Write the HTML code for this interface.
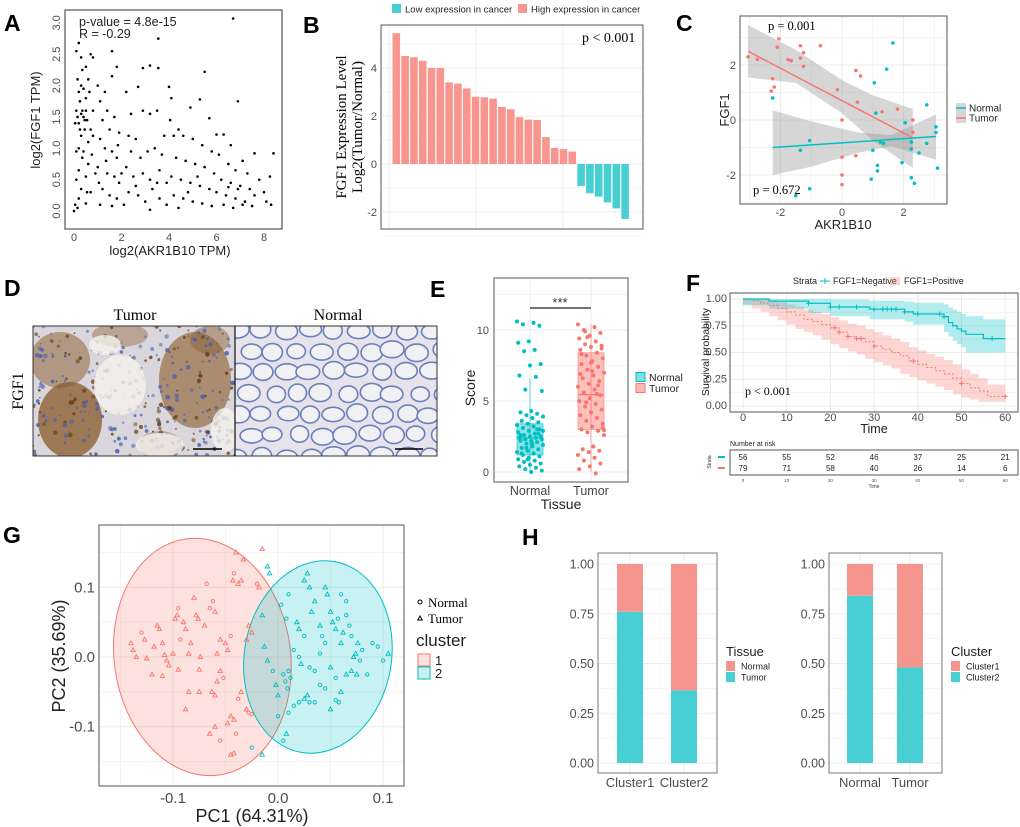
<!DOCTYPE html>
<html><head><meta charset="utf-8">
<style>
html,body{margin:0;padding:0;background:#fff;}
svg{display:block;font-family:"Liberation Sans",Arial,sans-serif;}
.lt{font-weight:bold;font-size:23px;fill:#000;}
.tk{font-size:11px;fill:#4d4d4d;}
.serif{font-family:"Liberation Serif",serif;}
</style></head>
<body>
<svg id="fig" width="1020" height="827" viewBox="0 0 1020 827" xmlns="http://www.w3.org/2000/svg">
<text x="4" y="31" class="lt">A</text>
<text x="303" y="33" class="lt">B</text>
<text x="676" y="31" class="lt">C</text>
<text x="4" y="296" class="lt">D</text>
<text x="430" y="297" class="lt">E</text>
<text x="686" y="291" class="lt">F</text>
<text x="3" y="543" class="lt">G</text>
<text x="522" y="545" class="lt">H</text>
<g id="gA"></g>
<g id="gB"></g>
<g id="gC"></g>
<g id="gD"></g>
<g id="gE"></g>
<g id="gF"></g>
<g id="gG"></g>
<g id="gH"></g>
</svg>
<script>
// ---------- DATA ----------
const aPoints=[[0.1,2.55],[0.2,2.68],[0.3,2.45],[0.5,2.3],[0.7,2.5],[0.8,2.45],[0.15,2.1],[0.3,2.0],[0.4,1.95],[0.2,1.9],[0.5,1.8],[0.6,2.1],[0.1,1.6],[0.3,1.55],[0.4,1.5],[0.5,1.6],[0.2,1.4],[0.45,1.3],[0.7,1.3],[0.3,1.2],[0.6,1.1],[0.2,1.0],[0.4,0.95],[0.8,1.2],[0.1,0.95],[0.35,0.85],[0.6,0.75],[0.2,0.65],[0.5,0.55],[0.1,0.5],[0.3,0.35],[0.7,0.3],[0.2,0.2],[0.5,0.12],[0.05,0.1],[0.0,0.0],[0.15,0.05],[0.9,0.6],[0.8,1.6],[0.65,1.9],[0.75,0.9],[0.35,2.25],[0.55,1.45],[0.25,1.75],[0.15,1.5],[0.35,1.6],[0.45,1.45],[0.25,1.3],[0.05,1.4],[0.55,0.3],
[1.0,2.0],[1.3,1.9],[1.1,1.75],[1.4,1.6],[1.6,2.55],[1.8,2.3],[1.6,2.15],[1.2,1.45],[1.5,1.3],[1.7,1.5],[1.9,1.25],[1.1,1.15],[1.3,1.0],[1.6,0.95],[1.8,0.85],[1.0,0.7],[1.4,0.6],[1.7,0.55],[1.9,0.45],[1.2,0.35],[1.5,0.25],[1.8,0.2],[1.1,0.1],[1.6,0.08],[2.0,0.6],[1.35,0.8],[1.85,1.05],[1.05,0.45],
[2.2,1.9],[2.4,1.55],[2.7,1.98],[2.9,2.28],[3.2,2.32],[3.55,2.75],[3.55,2.28],[2.3,1.2],[2.6,1.15],[2.9,1.6],[3.2,1.55],[3.5,1.6],[3.8,1.2],[2.4,0.95],[2.8,0.85],[3.1,0.95],[3.4,1.0],[3.7,0.9],[2.2,0.7],[2.5,0.55],[2.9,0.6],[3.2,0.5],[3.6,0.65],[3.9,0.45],[2.3,0.3],[2.7,0.25],[3.0,0.15],[3.3,0.35],[3.6,0.2],[3.9,0.1],[2.1,0.1],[3.2,0.02],[2.6,0.4],[3.5,0.45],
[4.0,1.98],[4.1,1.8],[4.05,1.45],[4.4,1.3],[4.9,1.65],[5.3,1.78],[5.5,2.22],[5.7,1.48],[4.2,1.2],[4.6,1.2],[5.0,1.15],[5.4,1.05],[5.8,0.95],[4.3,0.85],[4.7,0.8],[5.1,0.75],[5.5,0.7],[5.9,0.6],[4.1,0.55],[4.5,0.5],[4.9,0.45],[5.3,0.4],[5.7,0.35],[4.2,0.25],[4.6,0.2],[5.0,0.15],[5.4,0.12],[5.8,0.08],[4.4,0.05],[5.2,0.55],[4.8,0.3],
[6.0,1.22],[6.3,1.22],[6.6,1.05],[6.9,1.75],[6.7,3.07],[6.1,0.9],[6.5,0.75],[6.8,0.65],[7.1,0.8],[7.6,0.92],[8.4,0.92],[6.2,0.5],[6.6,0.45],[7.0,0.4],[7.4,0.35],[7.8,0.5],[6.0,0.3],[6.4,0.25],[6.8,0.2],[7.2,0.15],[7.6,0.25],[8.0,0.3],[8.25,0.55],[6.3,0.1],[6.7,0.05],[7.1,0.1],[7.5,0.08],[8.3,0.1],[6.9,0.35],[7.3,0.6],[6.5,0.38],[8.1,0.15]];
const aXTicks=[0,2,4,6,8];
const aYTicks=[0.0,0.5,1.0,1.5,2.0,2.5,3.0];

const bValues=[5.45,4.5,4.45,4.3,4.0,4.0,3.4,3.35,3.15,2.8,2.78,2.72,2.38,2.28,1.95,1.85,1.83,1.12,0.67,0.62,0.52,-0.92,-1.22,-1.36,-1.6,-1.85,-2.29];
const bYTicks=[-2,0,2,4];

const cTumor=[[-3.05,2.3],[-2.75,2.2],[-2.25,1.5],[-2.3,1.05],[-2.2,1.2],[-2.1,2.65],[-2.05,2.95],[-1.75,2.2],[-1.65,2.15],[-1.35,2.25],[-1.35,2.7],[-1.25,2.45],[-1.25,1.95],[-0.7,2.7],[-0.15,1.1],[0,0],[0.45,1.8],[0.6,1.6],[0.5,0.65],[1.3,0.3],[1.8,0.4],[2.3,0],[2.3,-0.45],[0,-1.35],[0.45,-1.3],[0,-2.0],[0,-2.35]];
const cNormal=[[-2.25,0.8],[-1.05,-0.75],[-1.35,-1.1],[-1.05,-2.5],[-1.5,-2.75],[1.05,1.35],[1.45,1.85],[1.65,2.8],[1.1,0.25],[1.25,-0.8],[1.35,-0.85],[1.0,-1.1],[1.15,-1.65],[1.15,-1.85],[0.95,-2.15],[1.95,-1.55],[2.05,-0.1],[2.25,-0.8],[2.25,-1.05],[2.25,-2.1],[2.35,-2.3],[2.5,-1.2],[2.75,0.55],[2.75,-0.85],[3.05,-0.25],[3.05,-0.45],[3.1,-1.75]];
const cTumorFit=[[-3.05,2.5],[2.3,-0.65]];
const cTumorBandU=[[-3.05,3.45],[-1.5,2.55],[0,1.45],[1,0.9],[2.3,0.4]];
const cTumorBandL=[[-3.05,1.55],[-1.5,1.35],[0,0.25],[1,-0.75],[2.3,-1.75]];
const cNormalFit=[[-2.25,-1.0],[3.05,-0.6]];
const cNormalBandU=[[-2.25,0.35],[-1,-0.05],[0.5,-0.45],[1.6,-0.55],[3.05,0.2]];
const cNormalBandL=[[-2.25,-2.0],[-1,-1.7],[0.5,-1.2],[1.6,-0.95],[3.05,-1.45]];
const cXTicks=[-2,0,2];
const cYTicks=[-2,0,2];

const eNormal=[10.6,10.5,10.4,10.3,9.2,9.1,8.6,8.5,7.6,7.5,6.8,6.7,5.8,5.7,4.3,4.2,4.1,4.0,3.9,3.8,3.6,3.5,3.4,3.3,3.2,3.1,3.0,2.9,2.8,2.7,2.6,2.5,2.5,2.4,2.4,2.3,2.3,2.2,2.2,2.1,2.0,1.9,1.8,1.7,1.6,1.5,1.4,1.3,1.2,1.1,1.0,0.9,0.8,0.7,0.6,0.5,0.4,0.3,0.2,0.1,0.0,2.6,3.0,1.7,2.9,2.0,1.3,2.7,0.9,3.3];
const eTumor=[10.4,10.2,10.0,9.8,9.6,9.4,9.2,9.0,8.9,8.8,8.6,8.4,8.2,8.0,7.8,7.6,7.4,7.2,7.0,6.8,6.6,6.4,6.2,6.0,5.8,5.6,5.4,5.2,5.0,4.8,4.6,4.4,4.2,4.0,3.8,3.6,3.4,3.2,3.0,2.9,2.8,2.6,1.8,1.6,1.5,1.4,1.2,1.0,0.8,0.6,0.4,0.2,-0.1,9.9,8.7,7.7,6.9,5.5,4.9,3.1,7.1,8.3,6.1,9.5,2.95];
const eNormalBox=[0,1.2,2.4,3.4,6.6];
const eTumorBox=[0,3.0,5.45,8.4,10.4];
const eYTicks=[0,5,10];

const fNegT=[0,6,15,20,29,37,39,46,47,48,49,50,51,55,60];
const fNegS=[1,0.98,0.96,0.925,0.905,0.88,0.86,0.835,0.78,0.75,0.72,0.70,0.67,0.63,0.63];
const fNegU=[1,1,1,0.995,0.985,0.975,0.965,0.95,0.92,0.9,0.88,0.86,0.84,0.81,0.81];
const fNegL=[1,0.94,0.91,0.87,0.84,0.81,0.79,0.76,0.69,0.65,0.61,0.58,0.55,0.5,0.5];
const fPosT=[0,2,4,6,8,10,12,14,16,18,20,22,24,26,28,30,32,34,36,38,40,42,44,46,48,50,52,54,56,60];
const fPosS=[1,0.985,0.96,0.94,0.91,0.88,0.85,0.81,0.79,0.76,0.73,0.69,0.65,0.63,0.6,0.56,0.53,0.5,0.47,0.42,0.39,0.36,0.33,0.3,0.26,0.21,0.17,0.14,0.09,0.09];
const fPosU=[1,1,1,0.99,0.97,0.95,0.93,0.9,0.88,0.86,0.83,0.8,0.77,0.75,0.72,0.69,0.66,0.63,0.6,0.55,0.52,0.49,0.46,0.43,0.39,0.34,0.3,0.26,0.2,0.2];
const fPosL=[1,0.95,0.91,0.88,0.84,0.8,0.76,0.72,0.69,0.66,0.62,0.58,0.54,0.51,0.48,0.44,0.41,0.38,0.35,0.3,0.27,0.24,0.21,0.18,0.15,0.11,0.08,0.06,0.04,0.04];
const fNegCens=[15,20,22,26,30,32,33,34,35,37,40,45,46,57];
const fPosCens=[21,22,24,26,27,30,39,50,60];
const fTimeTicks=[0,10,20,30,40,50,60];
const fProbTicks=[0,0.25,0.5,0.75,1.0];
const fRiskNeg=[56,55,52,46,37,25,21];
const fRiskPos=[79,71,58,40,26,14,6];

const gCluster1=[[-0.14,0.02,1],[-0.138,0.01,1],[-0.135,0.0,1],[-0.13,0.035,0],[-0.127,0.025,1],[-0.125,-0.002,1],[-0.118,0.015,1],[-0.115,0.045,1],[-0.113,0.04,1],[-0.11,0.02,1],[-0.108,0.003,1],[-0.106,-0.005,1],[-0.104,-0.012,1],[-0.1,0.005,1],[-0.098,0.055,1],[-0.096,0.06,1],[-0.095,0.07,0],[-0.093,0.025,0],[-0.09,0.05,1],[-0.088,0.04,1],[-0.085,0.005,1],[-0.083,0.02,1],[-0.08,0.085,1],[-0.078,0.06,1],[-0.076,0.055,1],[-0.074,0.0,1],[-0.07,0.045,1],[-0.068,0.105,0],[-0.065,0.07,0],[-0.062,0.08,0],[-0.06,0.065,1],[-0.058,0.005,1],[-0.055,0.025,1],[-0.05,0.02,1],[-0.048,0.01,1],[-0.045,0.03,0],[-0.043,0.11,1],[-0.042,0.12,0],[-0.04,0.15,1],[-0.038,0.105,1],[-0.035,0.11,1],[-0.033,0.14,1],[-0.03,0.025,1],[-0.028,0.045,1],[-0.025,0.035,1],[-0.02,0.105,0],[-0.018,0.10,1],[-0.015,0.155,1],[-0.055,-0.02,1],[-0.052,-0.03,0],[-0.058,-0.035,1],[-0.063,-0.05,1],[-0.06,-0.055,1],[-0.075,-0.05,1],[-0.085,-0.05,1],[-0.088,-0.075,1],[-0.065,-0.11,1],[-0.06,-0.1,1],[-0.055,-0.12,0],[-0.048,-0.095,1],[-0.045,-0.085,1],[-0.042,-0.09,1],[-0.04,-0.11,0],[-0.045,-0.14,1],[-0.042,-0.138,1],[-0.035,-0.05,1],[-0.03,-0.075,1],[-0.028,-0.08,0],[-0.025,-0.082,0],[-0.038,-0.06,0],[-0.12,-0.025,1],[-0.11,-0.027,1],[-0.095,-0.018,1],[-0.075,-0.018,1]];
const gCluster2=[[-0.025,-0.13,0],[-0.015,-0.14,1],[-0.01,0.13,1],[-0.008,0.12,1],[-0.015,0.06,1],[-0.013,0.015,1],[-0.01,-0.005,1],[-0.005,-0.02,0],[-0.002,-0.04,1],[0.0,-0.055,1],[0.005,-0.025,0],[0.007,-0.035,0],[0.009,-0.045,0],[0.01,-0.02,0],[0.012,-0.03,0],[0.015,0.01,0],[0.018,0.05,1],[0.02,0.04,1],[0.022,-0.01,1],[0.025,0.11,1],[0.028,0.12,1],[0.03,0.1,1],[0.032,0.065,1],[0.035,0.08,1],[0.04,0.045,1],[0.042,0.03,0],[0.045,0.02,0],[0.045,0.1,1],[0.047,0.09,1],[0.05,0.065,1],[0.052,0.05,1],[0.055,0.04,1],[0.057,0.055,0],[0.06,0.02,1],[0.062,0.035,1],[0.065,0.06,0],[0.068,0.045,0],[0.07,0.03,0],[0.072,0.0,1],[0.074,0.005,1],[0.076,0.02,1],[0.078,-0.005,0],[0.08,0.01,0],[0.085,-0.025,0],[0.09,0.02,0],[0.095,0.015,0],[0.1,-0.005,0],[0.105,0.005,1],[0.04,0.005,0],[0.035,-0.02,0],[0.03,-0.015,0],[0.05,-0.015,1],[0.055,-0.03,0],[0.06,-0.05,1],[0.065,-0.025,1],[0.07,-0.02,1],[0.075,-0.025,1],[0.045,-0.045,0],[0.04,-0.04,0],[0.035,-0.065,0],[0.03,-0.065,0],[0.028,-0.055,1],[0.025,-0.06,1],[0.02,-0.065,0],[0.05,-0.075,1],[0.055,-0.062,0],[0.058,-0.065,0],[0.01,-0.08,0],[0.005,-0.12,0],[0.008,-0.11,1],[0.015,-0.07,0],[0.0,-0.085,0],[0.02,0.0,0],[0.025,0.03,0],[0.003,0.075,0],[0.008,0.055,0],[0.01,0.09,0],[0.06,0.09,0],[0.065,0.08,0]];
const gEllipse1=[-0.072,0.0,0.084,0.171];
const gEllipse2=[0.038,0.0,0.07,0.139];
const gXTicks=[-0.1,0.0,0.1];
const gYTicks=[-0.1,0.0,0.1];

const hLeftCats=["Cluster1","Cluster2"];
const hLeftTumor=[0.76,0.365];
const hRightCats=["Normal","Tumor"];
const hRightCluster2=[0.84,0.48];
const hYTicks=[0,0.25,0.5,0.75,1.0];

// ---------- HELPERS ----------
const NS="http://www.w3.org/2000/svg";
const PINK="#F8766D", CYAN="#00BFC4";
function mk(tag,attrs,parent){const e=document.createElementNS(NS,tag);for(const k in attrs)e.setAttribute(k,attrs[k]);parent.appendChild(e);return e;}
function txt(s,attrs,parent){const e=mk("text",attrs,parent);e.textContent=s;return e;}
const gA=document.getElementById("gA"),gB=document.getElementById("gB"),gC=document.getElementById("gC"),gD=document.getElementById("gD"),gE=document.getElementById("gE"),gF=document.getElementById("gF"),gG=document.getElementById("gG"),gH=document.getElementById("gH");
let el;

// ---------- A ----------
const ax=v=>74+v*23.75, ay=v=>211-v*62.7;
el=mk("rect",{x:65,y:10,width:217,height:219,fill:"none",stroke:"#333","stroke-width":1},gA);


aPoints.forEach(p=>{
  el=mk("circle",{cx:ax(p[0]),cy:ay(p[1]),r:1.3,fill:"#000"},gA);
  
  
});
aXTicks.forEach(t=>{
  el=txt(String(t),{x:ax(t),y:241,"text-anchor":"middle",class:"tk","font-size":"10"},gA);
  
  
});
aYTicks.forEach(t=>{
  el=txt(t.toFixed(1),{x:0,y:0,"text-anchor":"middle",class:"tk","font-size":"10",transform:`translate(60,${ay(t)}) rotate(-90)`},gA);
  
  
});
el=txt("log2(AKR1B10 TPM)",{x:170,y:255,"text-anchor":"middle","font-size":"13",fill:"#222"},gA);


el=txt("log2(FGF1 TPM)",{x:0,y:0,"text-anchor":"middle","font-size":"13",fill:"#222",transform:"translate(40,120) rotate(-90)"},gA);


el=txt("p-value = 4.8e-15",{x:79,y:26,"font-size":"12.5",fill:"#222"},gA);


el=txt("R = -0.29",{x:79,y:38,"font-size":"12.5",fill:"#222"},gA);



// ---------- B ----------
const bx=i=>392.5+i*8.8, by=v=>164-v*24;
[-3,-1,1,3,5].forEach(v=>{el=mk("line",{x1:382,x2:643,y1:by(v),y2:by(v),stroke:"#f4f4f4"},gB);});
bYTicks.forEach(v=>{el=mk("line",{x1:382,x2:643,y1:by(v),y2:by(v),stroke:"#ebebeb"},gB);});
[389,476,563].forEach(x=>{el=mk("line",{x1:x,x2:x,y1:25,y2:229,stroke:"#ebebeb"},gB);});
bValues.forEach((v,i)=>{
  el=mk("rect",{x:bx(i),y:Math.min(by(v),by(0)),width:7.6,height:Math.abs(by(v)-by(0)),fill:v>=0?"#F8958E":"#47CFD3"},gB);
  
  
});
el=mk("rect",{x:381,y:25,width:262,height:204,fill:"none",stroke:"#555"},gB);


bYTicks.forEach(v=>{
  el=txt(String(v),{x:377,y:by(v)+4,"text-anchor":"end",class:"tk","font-size":"10"},gB);
  
  
});
el=txt("FGF1 Expression Level",{x:0,y:0,"text-anchor":"middle","font-size":"15",class:"serif",transform:"translate(346,127) rotate(-90)"},gB);


el=txt("Log2(Tumor/Normal)",{x:0,y:0,"text-anchor":"middle","font-size":"15",class:"serif",transform:"translate(362,127) rotate(-90)"},gB);


el=txt("p < 0.001",{x:582,y:42,"font-size":"14",class:"serif"},gB);


el=mk("rect",{x:392,y:4,width:9,height:9,fill:"#47CFD3"},gB);


el=txt("Low expression in cancer",{x:405,y:12.5,"font-size":"9.5",fill:"#222"},gB);


el=mk("rect",{x:518,y:4,width:9,height:9,fill:"#F8958E"},gB);


el=txt("High expression in cancer",{x:531,y:12.5,"font-size":"9.5",fill:"#222"},gB);



// ---------- C ----------
const cx=v=>842+v*30.8, cy=v=>120-v*27.5;
[-3,-1,1,3].forEach(v=>{el=mk("line",{x1:740,x2:947,y1:cy(v),y2:cy(v),stroke:"#f4f4f4"},gC);});
[-3,-1,1,3].forEach(v=>{el=mk("line",{y1:16,y2:204,x1:cx(v),x2:cx(v),stroke:"#f4f4f4"},gC);});
cYTicks.forEach(v=>{el=mk("line",{x1:740,x2:947,y1:cy(v),y2:cy(v),stroke:"#ebebeb"},gC);});
cXTicks.forEach(v=>{el=mk("line",{y1:16,y2:204,x1:cx(v),x2:cx(v),stroke:"#ebebeb"},gC);});
function band(U,L,fx,fy){return "M"+U.map(p=>fx(p[0])+","+fy(p[1])).join("L")+"L"+L.slice().reverse().map(p=>fx(p[0])+","+fy(p[1])).join("L")+"Z";}
el=mk("path",{d:band(cTumorBandU,cTumorBandL,cx,cy),fill:"#999","fill-opacity":0.4},gC);


el=mk("path",{d:band(cNormalBandU,cNormalBandL,cx,cy),fill:"#999","fill-opacity":0.4},gC);


el=mk("line",{x1:cx(cTumorFit[0][0]),y1:cy(cTumorFit[0][1]),x2:cx(cTumorFit[1][0]),y2:cy(cTumorFit[1][1]),stroke:PINK,"stroke-width":1.5},gC);


el=mk("line",{x1:cx(cNormalFit[0][0]),y1:cy(cNormalFit[0][1]),x2:cx(cNormalFit[1][0]),y2:cy(cNormalFit[1][1]),stroke:CYAN,"stroke-width":1.5},gC);


cTumor.forEach(p=>{el=mk("circle",{cx:cx(p[0]),cy:cy(p[1]),r:1.8,fill:PINK},gC);});
cNormal.forEach(p=>{el=mk("circle",{cx:cx(p[0]),cy:cy(p[1]),r:1.8,fill:CYAN},gC);});
el=mk("rect",{x:740,y:16,width:207,height:188,fill:"none",stroke:"#555"},gC);


cXTicks.forEach(v=>{el=txt(String(v),{x:cx(v),y:216,"text-anchor":"middle",class:"tk"},gC);});
cYTicks.forEach(v=>{el=txt(String(v),{x:736,y:cy(v)+4,"text-anchor":"end",class:"tk"},gC);});
el=txt("AKR1B10",{x:843,y:229,"text-anchor":"middle","font-size":"13",fill:"#222"},gC);


el=txt("FGF1",{x:0,y:0,"text-anchor":"middle","font-size":"13",fill:"#222",transform:"translate(729,110) rotate(-90)"},gC);


el=txt("p = 0.001",{x:768,y:30,"font-size":"12.5",class:"serif"},gC);


el=txt("p = 0.672",{x:753,y:194,"font-size":"12.5",class:"serif"},gC);


[["Normal",CYAN,108],["Tumor",PINK,118]].forEach(l=>{
  el=mk("rect",{x:956,y:l[2]-5,width:10,height:10,fill:"#bbb","fill-opacity":0.6},gC);
  
  
  el=mk("line",{x1:956,x2:966,y1:l[2],y2:l[2],stroke:l[1],"stroke-width":1.5},gC);
  
  
  el=txt(l[0],{x:969,y:l[2]+3.5,"font-size":"10",fill:"#222"},gC);
  
  
});

// ---------- D (IHC images, decorative texture) ----------
let seed=7;function rnd(){seed=(seed*16807)%2147483647;return seed/2147483647;}
el=txt("Tumor",{x:135,y:320,"text-anchor":"middle","font-size":"16",class:"serif"},gD);


el=txt("Normal",{x:338,y:320,"text-anchor":"middle","font-size":"16",class:"serif"},gD);


el=txt("FGF1",{x:0,y:0,"text-anchor":"middle","font-size":"16",class:"serif",transform:"translate(23,391) rotate(-90)"},gD);


const dc=mk("clipPath",{id:"clipT"},gD);mk("rect",{x:33,y:326,width:202,height:130},dc);
const dc2=mk("clipPath",{id:"clipN"},gD);mk("rect",{x:235,y:326,width:202,height:130},dc2);
const tg=mk("g",{"clip-path":"url(#clipT)"},gD);


mk("rect",{x:33,y:326,width:202,height:130,fill:"#d9d6dc"},tg);
[[70,420,32,38,0.75],[60,360,30,28,0.5],[195,380,36,48,0.6],[120,335,28,12,0.4],[160,445,22,14,0.35],[210,340,20,14,0.45]].forEach(b=>{mk("ellipse",{cx:b[0],cy:b[1],rx:b[2],ry:b[3],fill:"#8a5a2a","fill-opacity":b[4]},tg);});
for(let i=0;i<320;i++){const x=33+rnd()*202,y=326+rnd()*130;const brown=rnd()<0.4;mk("circle",{cx:x,cy:y,r:0.8+rnd()*1.6,fill:brown?"#6b3f16":"#4a5fb0","fill-opacity":0.5+rnd()*0.4},tg);}
[[120,385,26,30],[160,445,24,12],[105,345,16,10],[225,430,14,22]].forEach(b=>{mk("ellipse",{cx:b[0],cy:b[1],rx:b[2],ry:b[3],fill:"#f4f1ee","fill-opacity":0.8},tg);});
mk("line",{x1:193,x2:222,y1:449,y2:449,stroke:"#000","stroke-width":1.5},tg);
const ng=mk("g",{"clip-path":"url(#clipN)"},gD);


mk("rect",{x:235,y:326,width:202,height:130,fill:"#e6e4ea"},ng);
for(let r=0;r<7;r++){for(let c=0;c<9;c++){const x=238+c*24+(r%2)*12+(rnd()-0.5)*5,y=330+r*21+(rnd()-0.5)*4;mk("ellipse",{cx:x,cy:y,rx:9+rnd()*3,ry:7+rnd()*2,fill:"#f1f0f3",stroke:"#6a80bd","stroke-width":1.6},ng);}}
mk("line",{x1:395,x2:423,y1:449,y2:449,stroke:"#000","stroke-width":1.5},ng);
el=mk("rect",{x:33,y:326,width:404,height:130,fill:"none",stroke:"#333"},gD);


el=mk("line",{x1:235,x2:235,y1:326,y2:456,stroke:"#111","stroke-width":1.2},gD);



// ---------- E ----------
const ey=v=>472-v*14.2;
const eGroups=[{x:530,vals:eNormal,box:eNormalBox,c:CYAN,n:"normal"},{x:591,vals:eTumor,box:eTumorBox,c:PINK,n:"tumor"}];
[2.5,7.5,12.5].forEach(v=>{el=mk("line",{x1:494,x2:628,y1:ey(v),y2:ey(v),stroke:"#f4f4f4"},gE);});
eYTicks.forEach(v=>{el=mk("line",{x1:494,x2:628,y1:ey(v),y2:ey(v),stroke:"#ebebeb"},gE);});
eGroups.forEach(g=>{el=mk("line",{x1:g.x,x2:g.x,y1:278,y2:482,stroke:"#ebebeb"},gE);});
eGroups.forEach(g=>{
  const b=g.box;
  el=mk("line",{x1:g.x,x2:g.x,y1:ey(b[0]),y2:ey(b[4]),stroke:g.c,"stroke-opacity":0.6},gE);
  
  
  el=mk("rect",{x:g.x-13,y:ey(b[3]),width:26,height:ey(b[1])-ey(b[3]),fill:g.c,"fill-opacity":0.45,stroke:g.c,"stroke-opacity":0.6},gE);
  
  
  el=mk("line",{x1:g.x-13,x2:g.x+13,y1:ey(b[2]),y2:ey(b[2]),stroke:g.c,"stroke-width":1.2},gE);
  
  
  g.vals.forEach((v,i)=>{
    const j=(((i*37)%23)/22-0.5)*26;
    el=mk("circle",{cx:g.x+j,cy:ey(v),r:2,fill:g.c},gE);
    
    
  });
});
el=mk("rect",{x:494,y:278,width:134,height:204,fill:"none",stroke:"#555"},gE);


el=mk("line",{x1:530,x2:591,y1:308,y2:308,stroke:"#222","stroke-width":1.2},gE);


el=txt("***",{x:560,y:307,"text-anchor":"middle","font-size":"13",fill:"#333"},gE);


eYTicks.forEach(v=>{el=txt(String(v),{x:489,y:ey(v)+4,"text-anchor":"end",class:"tk","font-size":"12"},gE);});
el=txt("Normal",{x:530,y:495,"text-anchor":"middle","font-size":"12.5",fill:"#444"},gE);


el=txt("Tumor",{x:591,y:495,"text-anchor":"middle","font-size":"12.5",fill:"#444"},gE);


el=txt("Tissue",{x:561,y:509,"text-anchor":"middle","font-size":"14",fill:"#222"},gE);


el=txt("Score",{x:0,y:0,"text-anchor":"middle","font-size":"14",fill:"#222",transform:"translate(475,388) rotate(-90)"},gE);


[["Normal",CYAN,377],["Tumor",PINK,388]].forEach(l=>{
  el=mk("rect",{x:636,y:l[2]-4.5,width:9,height:9,fill:l[1],"fill-opacity":0.5,stroke:l[1]},gE);
  
  
  el=txt(l[0],{x:649,y:l[2]+4,"font-size":"10.5",fill:"#222"},gE);
  
  
});

// ---------- F ----------
const fx=t=>743+t*4.37, fy=p=>406-p*107;
[0.125,0.375,0.625,0.875].forEach(v=>{el=mk("line",{x1:730,x2:1018,y1:fy(v),y2:fy(v),stroke:"#f4f4f4"},gF);});
fProbTicks.forEach(v=>{el=mk("line",{x1:730,x2:1018,y1:fy(v),y2:fy(v),stroke:"#ebebeb"},gF);});
fTimeTicks.forEach(v=>{el=mk("line",{x1:fx(v),x2:fx(v),y1:293,y2:412,stroke:"#ebebeb"},gF);});
function stepPath(T,S){let d="M"+fx(T[0])+","+fy(S[0]);for(let i=1;i<T.length;i++){d+="H"+fx(T[i])+"V"+fy(S[i]);}return d;}
function stepBand(T,U,L){let d="M"+fx(T[0])+","+fy(U[0]);for(let i=1;i<T.length;i++){d+="H"+fx(T[i])+"V"+fy(U[i]);}for(let i=T.length-1;i>0;i--){d+="V"+fy(L[i])+"H"+fx(T[i-1]);}d+="V"+fy(L[0])+"Z";return d;}
el=mk("path",{d:stepBand(fPosT,fPosU,fPosL),fill:PINK,"fill-opacity":0.3},gF);


el=mk("path",{d:stepBand(fNegT,fNegU,fNegL),fill:CYAN,"fill-opacity":0.3},gF);


el=mk("path",{d:stepPath(fPosT,fPosS),fill:"none",stroke:PINK,"stroke-width":1,"stroke-dasharray":"2,2"},gF);


el=mk("path",{d:stepPath(fNegT,fNegS),fill:"none",stroke:CYAN,"stroke-width":1.2},gF);


function survAt(T,S,t){let s=S[0];for(let i=0;i<T.length;i++){if(T[i]<=t)s=S[i];}return s;}
fNegCens.forEach(t=>{const y=fy(survAt(fNegT,fNegS,t));el=mk("path",{d:`M${fx(t)-2.5},${y}h5M${fx(t)},${y-2.5}v5`,stroke:CYAN},gF);});
fPosCens.forEach(t=>{const y=fy(survAt(fPosT,fPosS,t));el=mk("path",{d:`M${fx(t)-2.5},${y}h5M${fx(t)},${y-2.5}v5`,stroke:PINK},gF);});
el=mk("rect",{x:730,y:293,width:288,height:119,fill:"none",stroke:"#555"},gF);


fProbTicks.forEach(v=>{el=txt(v.toFixed(2),{x:727,y:fy(v)+3,"text-anchor":"end",class:"tk","font-size":"8.5"},gF);});
fTimeTicks.forEach(v=>{el=txt(String(v),{x:fx(v),y:421,"text-anchor":"middle",class:"tk","font-size":"9.5"},gF);});
el=txt("Time",{x:874,y:433,"text-anchor":"middle","font-size":"12.5",fill:"#222"},gF);


el=txt("Survival probability",{x:0,y:0,"text-anchor":"middle","font-size":"10.5",fill:"#222",transform:"translate(709,352) rotate(-90)"},gF);


el=txt("p < 0.001",{x:745,y:395,"font-size":"12",class:"serif"},gF);


el=txt("Strata",{x:793,y:284,"font-size":"9",fill:"#222"},gF);


el=mk("path",{d:"M820,281h10M825,278v6",stroke:CYAN},gF);


el=txt("FGF1=Negative",{x:833,y:284,"font-size":"9",fill:"#222"},gF);


el=mk("rect",{x:890,y:277,width:10,height:8,fill:PINK,"fill-opacity":0.3},gF);


el=txt("FGF1=Positive",{x:904,y:284,"font-size":"9",fill:"#222"},gF);


el=txt("Number at risk",{x:730,y:446,"font-size":"7",fill:"#222"},gF);


el=mk("rect",{x:730,y:450,width:288,height:25,fill:"none",stroke:"#555"},gF);


fRiskNeg.forEach((n,i)=>{el=txt(String(n),{x:fx(fTimeTicks[i]),y:460,"text-anchor":"middle","font-size":"8",fill:"#222"},gF);});
fRiskPos.forEach((n,i)=>{el=txt(String(n),{x:fx(fTimeTicks[i]),y:471,"text-anchor":"middle","font-size":"8",fill:"#222"},gF);});
fTimeTicks.forEach(v=>{el=txt(String(v),{x:fx(v),y:482,"text-anchor":"middle","font-size":"4.5",fill:"#555"},gF);});
el=txt("Time",{x:874,y:488,"text-anchor":"middle","font-size":"5",fill:"#333"},gF);


el=mk("line",{x1:718,x2:725,y1:457,y2:457,stroke:CYAN,"stroke-width":2},gF);


el=mk("line",{x1:718,x2:725,y1:468,y2:468,stroke:PINK,"stroke-width":2},gF);


el=txt("Strata",{x:0,y:0,"text-anchor":"middle","font-size":"5",fill:"#333",transform:"translate(711,462) rotate(-90)"},gF);



// ---------- G ----------
const gx=v=>278+v*1050, gy=v=>657-v*697;
[-0.15,-0.05,0.05,0.15].forEach(v=>{el=mk("line",{x1:99,x2:404,y1:gy(v),y2:gy(v),stroke:"#f4f4f4"},gG);});
[-0.15,-0.05,0.05].forEach(v=>{el=mk("line",{y1:525,y2:786,x1:gx(v),x2:gx(v),stroke:"#f4f4f4"},gG);});
gYTicks.forEach(v=>{el=mk("line",{x1:99,x2:404,y1:gy(v),y2:gy(v),stroke:"#ebebeb"},gG);});
gXTicks.forEach(v=>{el=mk("line",{y1:525,y2:786,x1:gx(v),x2:gx(v),stroke:"#ebebeb"},gG);});
[[gEllipse1,PINK,-8,"cluster1-ellipse"],[gEllipse2,CYAN,10,"cluster2-ellipse"]].forEach(e=>{
  const E=e[0],cxp=gx(E[0]),cyp=gy(E[1]);
  el=mk("ellipse",{cx:cxp,cy:cyp,rx:E[2]*1050,ry:E[3]*697,fill:e[1],"fill-opacity":0.22,stroke:e[1],"stroke-width":1,transform:`rotate(${e[2]},${cxp},${cyp})`},gG);
  
  
});
function shape(p,col,parent){const x=gx(p[0]),y=gy(p[1]);if(p[2]===0){return mk("circle",{cx:x,cy:y,r:1.7,fill:"none",stroke:col,"stroke-width":0.9},parent);}return mk("path",{d:`M${x},${y-2.3}L${x+2.2},${y+1.6}L${x-2.2},${y+1.6}Z`,fill:"none",stroke:col,"stroke-width":0.9},parent);}
gCluster1.forEach(p=>{el=shape(p,PINK,gG);});
gCluster2.forEach(p=>{el=shape(p,CYAN,gG);});
el=mk("rect",{x:99,y:525,width:305,height:261,fill:"none",stroke:"#555"},gG);


gXTicks.forEach(v=>{el=txt(v===0?"0.0":String(v),{x:gx(v),y:803,"text-anchor":"middle","font-size":"15",fill:"#4d4d4d"},gG);});
gYTicks.forEach(v=>{el=txt(v===0?"0.0":String(v),{x:95,y:gy(v)+5,"text-anchor":"end","font-size":"15",fill:"#4d4d4d"},gG);});
el=txt("PC1 (64.31%)",{x:252,y:822,"text-anchor":"middle","font-size":"18",fill:"#222"},gG);


el=txt("PC2 (35.69%)",{x:0,y:0,"text-anchor":"middle","font-size":"18",fill:"#222",transform:"translate(65,656) rotate(-90)"},gG);


el=mk("circle",{cx:420,cy:602,r:2,fill:"none",stroke:"#000"},gG);


el=txt("Normal",{x:428,y:607,"font-size":"13",class:"serif"},gG);


el=mk("path",{d:"M420,616L422.3,620L417.7,620Z",fill:"none",stroke:"#000"},gG);


el=txt("Tumor",{x:428,y:623,"font-size":"13",class:"serif"},gG);


el=txt("cluster",{x:416,y:646,"font-size":"17",fill:"#222"},gG);


[["1",PINK,660],["2",CYAN,673]].forEach(l=>{
  el=mk("rect",{x:418,y:l[2]-6,width:12,height:12,fill:l[1],"fill-opacity":0.22,stroke:l[1]},gG);
  
  
  el=txt(l[0],{x:435,y:l[2]+5,"font-size":"13",fill:"#222"},gG);
  
  
});

// ---------- H ----------
const hy=v=>763-v*199;
function hPanel(x0,x1,cats,lower,centers,legendTitle,legendLabels,lx,name){
  [0.125,0.375,0.625,0.875].forEach(v=>{el=mk("line",{x1:x0,x2:x1,y1:hy(v),y2:hy(v),stroke:"#f4f4f4"},gH);});
  hYTicks.forEach(v=>{el=mk("line",{x1:x0,x2:x1,y1:hy(v),y2:hy(v),stroke:"#ebebeb"},gH);});
  cats.forEach((c,i)=>{
    const cx0=centers[i];
    el=mk("line",{x1:cx0,x2:cx0,y1:553,y2:773,stroke:"#ebebeb"},gH);
    
    
    el=mk("rect",{x:cx0-13,y:hy(1),width:26,height:hy(lower[i])-hy(1),fill:"#F6958D"},gH);
    
    
    el=mk("rect",{x:cx0-13,y:hy(lower[i]),width:26,height:hy(0)-hy(lower[i]),fill:"#47CFD4"},gH);
    
    
    el=txt(c,{x:cx0,y:787,"text-anchor":"middle","font-size":"13",fill:"#4d4d4d"},gH);
    
    
  });
  el=mk("rect",{x:x0,y:553,width:x1-x0,height:220,fill:"none",stroke:"#777"},gH);
  
  
  hYTicks.forEach(v=>{el=txt(v.toFixed(2),{x:x0-4,y:hy(v)+4.5,"text-anchor":"end","font-size":"12.5",fill:"#4d4d4d"},gH);});
  el=txt(legendTitle,{x:lx,y:656,"font-size":"13",fill:"#222"},gH);
  
  
  [["#F6958D",666],["#47CFD4",677]].forEach((s,k)=>{
    el=mk("rect",{x:lx,y:s[1]-5,width:9,height:10,fill:s[0]},gH);
    
    
    el=txt(legendLabels[k],{x:lx+15,y:s[1]+3.5,"font-size":"9",fill:"#222"},gH);
    
    
  });
}
hPanel(598,717,hLeftCats,hLeftTumor,[630,684],"Tissue",["Normal","Tumor"],726,"tissue-by-cluster");
hPanel(829,942,hRightCats,hRightCluster2,[860,910],"Cluster",["Cluster1","Cluster2"],951,"cluster-by-tissue");
</script>
</body></html>
